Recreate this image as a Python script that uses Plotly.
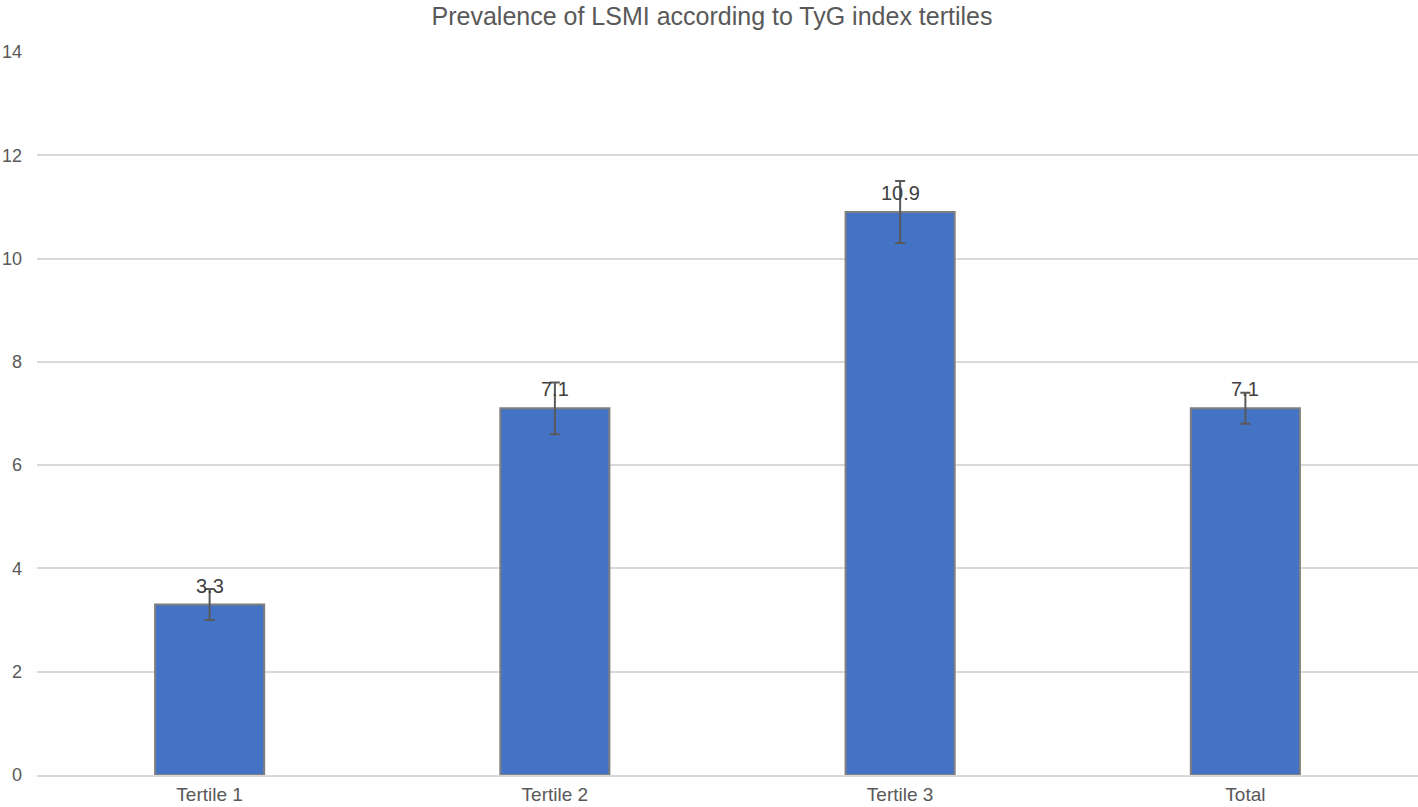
import plotly.graph_objects as go

categories = ["Tertile 1", "Tertile 2", "Tertile 3", "Total"]
prevalence = [3.3, 7.1, 10.9, 7.1]
error_plus = [0.3, 0.5, 0.6, 0.3]
error_minus = [0.3, 0.5, 0.6, 0.3]
value_labels = ["3.3", "7.1", "10.9", "7.1"]

FONT = "Liberation Sans, Arial, sans-serif"

fig = go.Figure(go.Bar(
    x=categories,
    y=prevalence,
    width=0.316,
    marker=dict(color="#4472C4", line=dict(color="#7F7F7F", width=2)),
    error_y=dict(type="data", array=error_plus, arrayminus=error_minus,
                 color="#595959", thickness=2, width=5, visible=True),
))

for cat, val, lab in zip(categories, prevalence, value_labels):
    fig.add_annotation(x=cat, y=val, text=lab, showarrow=False,
                       yanchor="bottom", yshift=6,
                       font=dict(family=FONT, size=20, color="#404040"))

fig.update_layout(
    width=1418, height=807,
    margin=dict(l=37, r=0, t=52, b=32, autoexpand=False),
    paper_bgcolor="white", plot_bgcolor="white",
    showlegend=False,
    title=dict(text="Prevalence of LSMI according to TyG index tertiles",
               x=712 / 1418, xanchor="center", xref="container",
               y=1 - 16 / 807, yanchor="middle", yref="container",
               font=dict(family=FONT, size=25, color="#595959")),
    font=dict(family=FONT, size=20, color="#595959"),
)
fig.update_yaxes(range=[0, 14], dtick=2, showgrid=True, gridcolor="#D9D9D9", gridwidth=2,
                 zeroline=False, showline=False, ticks="", ticklabelstandoff=14,
                 automargin=False,
                 tickfont=dict(family=FONT, size=18, color="#595959"))
fig.update_xaxes(showline=True, linecolor="#D9D9D9", linewidth=2, ticks="",
                 automargin=False, ticklabelstandoff=1,
                 tickfont=dict(family=FONT, size=19, color="#595959"))

fig.write_html("out.html", config={"displayModeBar": False},
               post_script="document.body.style.margin='0';document.body.style.overflow='hidden';")
